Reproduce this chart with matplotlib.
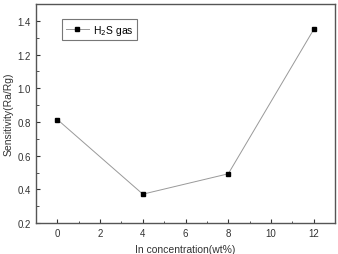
import matplotlib
matplotlib.use("Agg")
import matplotlib.pyplot as plt
from matplotlib.ticker import MultipleLocator

# In concentration (wt%) vs sensitivity
conc = [0, 4, 8, 12]
sens = [0.815, 0.372, 0.493, 1.35]

plt.rcParams["font.family"] = "Liberation Sans"

fig = plt.figure(figsize=(3.38, 2.55), dpi=100)
ax = fig.add_axes([0.1065, 0.121, 0.885, 0.859])

ax.plot(conc, sens, color="#999999", linewidth=0.7, marker="s",
        markersize=3.2, markerfacecolor="black", markeredgecolor="black",
        label=r"H$_2$S gas")

ax.set_xlim(-1, 13)
ax.set_ylim(0.2, 1.5)
ax.xaxis.set_major_locator(MultipleLocator(2))
ax.xaxis.set_minor_locator(MultipleLocator(1))
ax.yaxis.set_minor_locator(MultipleLocator(0.1))
ax.set_yticks([0.2, 0.4, 0.6, 0.8, 1.0, 1.2, 1.4])
ax.tick_params(which="both", direction="in", top=False, right=False,
               labelsize=7, colors="#333333")
ax.tick_params(which="major", length=3, width=0.8)
ax.tick_params(which="minor", length=1.8, width=0.6)
for s in ax.spines.values():
    s.set_linewidth(1.0)
    s.set_color("#555555")

ax.set_xlabel("In concentration(wt%)", fontsize=7.5, color="#333333", labelpad=4)
ax.set_ylabel("Sensitivity(Ra/Rg)", fontsize=7.5, color="#333333", labelpad=3)

leg = ax.legend(loc="upper left", bbox_to_anchor=(0.07, 0.955), fontsize=7.5,
                frameon=True, fancybox=False, edgecolor="#555555",
                handlelength=2.2, borderpad=0.35, handletextpad=0.4)
leg.get_frame().set_linewidth(0.8)

fig.savefig("out.png", dpi=100)
